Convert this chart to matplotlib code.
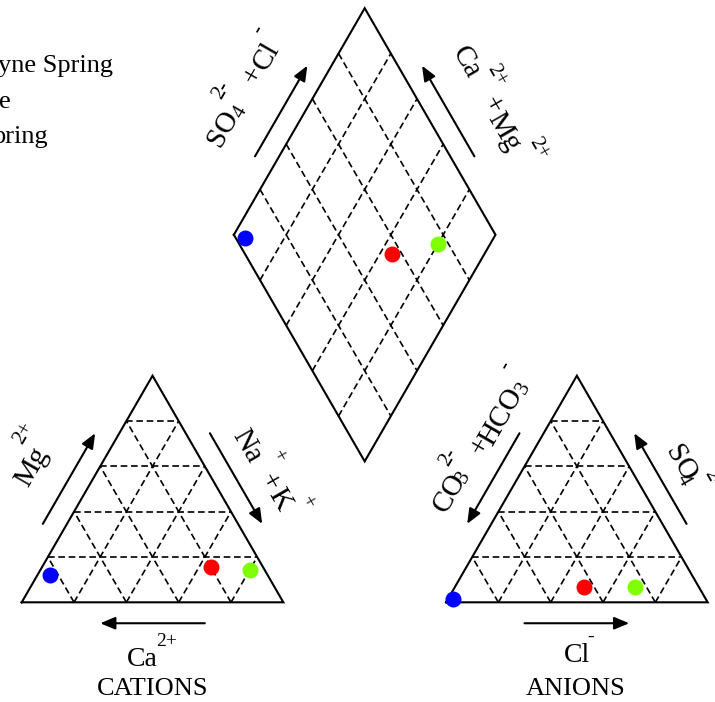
import numpy as np
import matplotlib
matplotlib.use('Agg')
import matplotlib.pyplot as plt

plt.rcParams['font.family'] = ['Liberation Serif', 'DejaVu Serif']

# --- sample chemistry (% meq) -------------------------------------------------
SAMPLES = ['blue', 'red', 'green']
COLORS = ['#0000ff', '#ff0000', '#7fff00']
MG = [12.0, 15.7, 14.3]
NAK = [5.0, 64.5, 80.0]
CA = [83.0, 19.8, 5.7]
SO4 = [1.5, 6.9, 6.9]
CL = [1.9, 49.3, 68.9]
HCO3 = [96.6, 43.8, 24.2]
LEGEND_TEXT = ['yne Spring', 'e', 'pring']

H = np.sqrt(3) / 2
GAP = 0.622                        # space between the two triangles (side = 1)
AX0 = 1 + GAP                      # left vertex of the anion triangle


def cation_xy(mg, nak):
    return nak + mg / 2, mg * H


def anion_xy(so4, cl):
    return AX0 + cl + so4 / 2, so4 * H


def diamond_xy(nak, so4cl):
    return (1 + GAP + nak + so4cl) / 2, H * (1 + GAP + so4cl - nak)


def tri_grid(ax, x0):
    for f in np.arange(1, 5) / 5:
        segs = [((x0 + f / 2, f * H), (x0 + 1 - f / 2, f * H)),
                ((x0 + f, 0), (x0 + f + (1 - f) / 2, (1 - f) * H)),
                ((x0 + f, 0), (x0 + f / 2, f * H))]
        for p, q in segs:
            ax.plot([p[0], q[0]], [p[1], q[1]], color='k', lw=1.2, dashes=(4, 2.2))
    ax.plot([x0, x0 + 1, x0 + 0.5, x0], [0, 0, H, 0], color='k', lw=1.5,
            solid_joinstyle='miter')


def side_arrow(ax, p0, p1, centre, off=0.08, f0=0.3, f1=0.7):
    """Arrow parallel to side p0->p1, pushed away from the shape centre."""
    p0, p1, centre = (np.asarray(v, float) for v in (p0, p1, centre))
    d = p1 - p0
    n = np.array([-d[1], d[0]]) / np.hypot(*d)
    if np.dot(n, (p0 + p1) / 2 - centre) < 0:
        n = -n
    a = p0 + f0 * d + off * n
    b = p0 + f1 * d + off * n
    ax.annotate('', xy=b, xytext=a,
                arrowprops=dict(arrowstyle='-|>,head_length=0.6,head_width=0.25',
                                mutation_scale=15, lw=1.5, color='k',
                                shrinkA=0, shrinkB=0))


fig = plt.figure(figsize=(7.15, 7.02), dpi=100)
ax = fig.add_axes([0, 0, 1, 1])
ax.set_xlim(-0.083, 2.650)
ax.set_ylim(-0.381, 2.302)
ax.axis('off')

# triangles
tri_grid(ax, 0.0)
tri_grid(ax, AX0)

# diamond
for f in np.arange(1, 5) / 5:
    for p, q in [((f, 0), (f, 1)), ((0, f), (1, f))]:
        x, y = zip(diamond_xy(*p), diamond_xy(*q))
        ax.plot(x, y, color='k', lw=1.2, dashes=(4, 2.2))
corners = [diamond_xy(*c) for c in [(0, 0), (1, 0), (1, 1), (0, 1), (0, 0)]]
ax.plot(*zip(*corners), color='k', lw=1.5, solid_joinstyle='miter')

# direction arrows
cat_c = (0.5, H / 3)
an_c = (AX0 + 0.5, H / 3)
dia_c = diamond_xy(0.5, 0.5)
side_arrow(ax, (0, 0), (0.5, H), cat_c)                         # Mg
side_arrow(ax, (0.5, H), (1, 0), cat_c)                         # Na + K
side_arrow(ax, (1, 0), (0, 0), cat_c)                           # Ca
side_arrow(ax, (AX0 + 0.5, H), (AX0, 0), an_c)                  # CO3 + HCO3
side_arrow(ax, (AX0 + 1, 0), (AX0 + 0.5, H), an_c)              # SO4
side_arrow(ax, (AX0, 0), (AX0 + 1, 0), an_c)                    # Cl
side_arrow(ax, diamond_xy(0, 0), diamond_xy(0, 1), dia_c)       # SO4 + Cl
side_arrow(ax, diamond_xy(1, 1), diamond_xy(0, 1), dia_c)       # Ca + Mg

# ion labels: (text, x, y, size, rotation)
BIG, SMALL = 21, 15
labels = [
    ('Mg', 0.038, 0.518, BIG, 60), ('2+', 0.009, 0.648, SMALL, 60),
    ('Na', 0.862, 0.595, BIG, -60), ('+', 0.977, 0.554, SMALL, -60),
    ('+', 0.947, 0.461, BIG, -60), ('K', 0.987, 0.391, BIG, -60),
    ('+', 1.087, 0.378, SMALL, -60),
    ('Ca', 0.461, -0.218, 20, 0), ('2+', 0.553, -0.150, 14, 0),
    ('CATIONS', 0.499, -0.331, 19, 0),
    ('CO', 1.635, 0.417, BIG, 60), ('3', 1.688, 0.478, SMALL, 60),
    ('2-', 1.631, 0.554, SMALL, 60), ('+', 1.752, 0.598, BIG, 60),
    ('HCO', 1.835, 0.710, BIG, 60), ('3', 1.920, 0.818, SMALL, 60),
    ('-', 1.848, 0.903, SMALL, 60),
    ('SO', 2.516, 0.531, BIG, -60), ('4', 2.529, 0.468, SMALL, -60),
    ('2-', 2.638, 0.474, SMALL, -60),
    ('Cl', 2.122, -0.205, 20, 0), ('-', 2.174, -0.134, 14, 0),
    ('ANIONS', 2.119, -0.331, 19, 0),
    ('SO', 0.771, 1.812, BIG, 60), ('4', 0.835, 1.875, SMALL, 60),
    ('2-', 0.765, 1.958, SMALL, 60), ('+', 0.885, 2.016, BIG, 60),
    ('Cl', 0.937, 2.086, BIG, 60), ('-', 0.904, 2.188, SMALL, 60),
    ('Ca', 1.698, 2.063, BIG, -60), ('2+', 1.816, 2.016, SMALL, -60),
    ('+', 1.797, 1.901, BIG, -60), ('Mg', 1.841, 1.799, BIG, -60),
    ('2+', 1.975, 1.736, SMALL, -60),
]
for s, x, y, size, rot in labels:
    ax.text(x, y, s, fontsize=size, rotation=rot, ha='center', va='center',
            rotation_mode='anchor')

# sample points
for i, c in enumerate(COLORS):
    mg, nak, so4, cl = MG[i] / 100, NAK[i] / 100, SO4[i] / 100, CL[i] / 100
    for x, y in [cation_xy(mg, nak), anion_xy(so4, cl), diamond_xy(nak, so4 + cl)]:
        ax.plot(x, y, 'o', color=c, ms=11.5, mew=0, zorder=5, clip_on=False)

# legend text (left edge)
for txt, x, y in zip(LEGEND_TEXT, [-0.091, -0.086, -0.110], [2.027, 1.891, 1.756]):
    ax.text(x, y, txt, fontsize=19, ha='left', va='baseline')

fig.savefig('out.png', dpi=100)
